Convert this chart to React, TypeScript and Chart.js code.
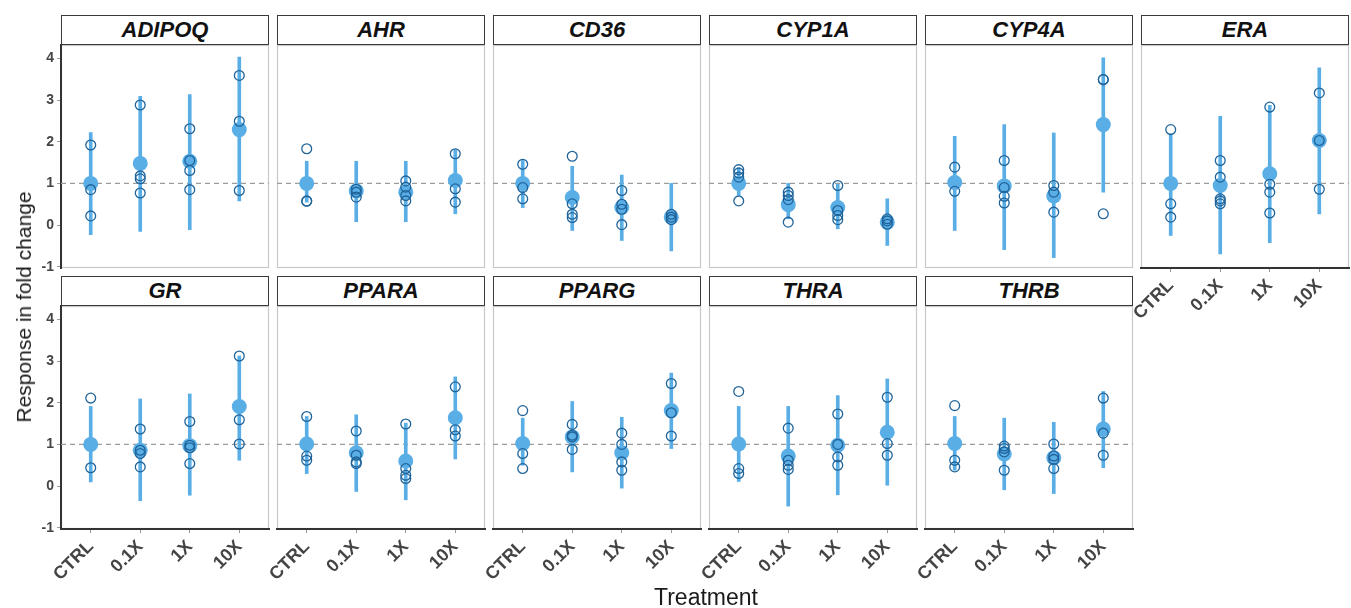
import React, { useEffect, useRef } from "react";
import { Chart, registerables } from "chart.js";
Chart.register(...registerables);

// ---------- data ----------
const treatments = ["CTRL", "0.1X", "1X", "10X"];
const yTickValues = [-1, 0, 1, 2, 3, 4];
const referenceLevel = 1;

const adipoqMean = [1.0, 1.48, 1.53, 2.29];
const adipoqLo = [-0.23, -0.15, -0.11, 0.58];
const adipoqHi = [2.22, 3.09, 3.13, 4.03];
const adipoqPts = [[1.92, 0.85, 0.22], [2.88, 1.18, 1.11, 0.77], [2.31, 1.55, 1.31, 0.85], [3.59, 2.49, 0.83]];

const ahrMean = [1.0, 0.82, 0.79, 1.07];
const ahrLo = [0.55, 0.08, 0.08, 0.27];
const ahrHi = [1.53, 1.53, 1.53, 1.81];
const ahrPts = [[1.83, 0.58, 0.57], [0.86, 0.79, 0.67], [1.06, 0.91, 0.71, 0.58], [1.71, 0.87, 0.55]];

const cd36Mean = [1.0, 0.66, 0.42, 0.19];
const cd36Lo = [0.42, -0.13, -0.37, -0.62];
const cd36Hi = [1.55, 1.41, 1.2, 1.0];
const cd36Pts = [[1.46, 0.9, 0.63], [1.65, 0.51, 0.26, 0.18], [0.83, 0.5, 0.38, 0.01], [0.26, 0.19, 0.13]];

const cyp1aMean = [1.0, 0.49, 0.42, 0.07];
const cyp1aLo = [0.72, 0.15, -0.09, -0.49];
const cyp1aHi = [1.38, 1.0, 0.98, 0.63];
const cyp1aPts = [[1.33, 1.25, 1.15, 0.58], [0.79, 0.71, 0.61, 0.07], [0.95, 0.35, 0.23, 0.13], [0.15, 0.1, 0.02]];

const cyp4aMean = [1.02, 0.94, 0.7, 2.41];
const cyp4aLo = [-0.13, -0.59, -0.78, 0.79];
const cyp4aHi = [2.13, 2.41, 2.21, 4.01];
const cyp4aPts = [[1.39, 0.81], [1.55, 0.9, 0.69, 0.53], [0.95, 0.79, 0.31], [3.49, 3.49, 0.27]];

const eraMean = [1.0, 0.95, 1.23, 2.03];
const eraLo = [-0.25, -0.69, -0.42, 0.27];
const eraHi = [2.19, 2.61, 2.87, 3.77];
const eraPts = [[2.29, 0.51, 0.19], [1.55, 1.15, 0.63, 0.58, 0.51], [2.83, 0.98, 0.79, 0.29], [3.17, 2.03, 0.86]];

const grMean = [1.0, 0.86, 0.97, 1.91];
const grLo = [0.1, -0.35, -0.22, 0.62];
const grHi = [1.91, 2.09, 2.21, 3.12];
const grPts = [[2.11, 0.44], [1.37, 0.86, 0.78, 0.46], [1.55, 0.98, 0.92, 0.54], [3.12, 1.59, 1.01]];

const pparaMean = [1.01, 0.8, 0.6, 1.64];
const pparaLo = [0.3, -0.13, -0.33, 0.65];
const pparaHi = [1.67, 1.71, 1.51, 2.62];
const pparaPts = [[1.67, 0.72, 0.62], [1.32, 0.74, 0.58, 0.54], [1.49, 0.42, 0.26, 0.18], [2.38, 1.35, 1.2]];

const ppargMean = [1.02, 1.18, 0.8, 1.81];
const ppargLo = [0.5, 0.34, -0.05, 0.9];
const ppargHi = [1.63, 2.03, 1.65, 2.71];
const ppargPts = [[1.81, 0.78, 0.42], [1.48, 1.22, 1.18, 0.88], [1.27, 1.0, 0.58, 0.38], [2.46, 1.76, 1.2]];

const thraMean = [1.01, 0.72, 0.98, 1.29];
const thraLo = [0.11, -0.48, -0.21, 0.02];
const thraHi = [1.91, 1.91, 2.17, 2.57];
const thraPts = [[2.27, 0.42, 0.3], [1.39, 0.62, 0.5, 0.4], [1.73, 1.0, 0.7, 0.5], [2.13, 1.02, 0.74]];

const thrbMean = [1.02, 0.77, 0.68, 1.37];
const thrbLo = [0.38, -0.09, -0.18, 0.44];
const thrbHi = [1.67, 1.63, 1.53, 2.27];
const thrbPts = [[1.93, 0.62, 0.46], [0.96, 0.9, 0.82, 0.38], [1.01, 0.72, 0.64, 0.42], [2.11, 1.27, 0.74]];

type PanelDef = { gene: string; mean: number[]; lo: number[]; hi: number[]; pts: number[][]; row: number; col: number; showX: boolean };

const panels: PanelDef[] = [
  { gene: "ADIPOQ", mean: adipoqMean, lo: adipoqLo, hi: adipoqHi, pts: adipoqPts, row: 0, col: 0, showX: false },
  { gene: "AHR", mean: ahrMean, lo: ahrLo, hi: ahrHi, pts: ahrPts, row: 0, col: 1, showX: false },
  { gene: "CD36", mean: cd36Mean, lo: cd36Lo, hi: cd36Hi, pts: cd36Pts, row: 0, col: 2, showX: false },
  { gene: "CYP1A", mean: cyp1aMean, lo: cyp1aLo, hi: cyp1aHi, pts: cyp1aPts, row: 0, col: 3, showX: false },
  { gene: "CYP4A", mean: cyp4aMean, lo: cyp4aLo, hi: cyp4aHi, pts: cyp4aPts, row: 0, col: 4, showX: false },
  { gene: "ERA", mean: eraMean, lo: eraLo, hi: eraHi, pts: eraPts, row: 0, col: 5, showX: true },
  { gene: "GR", mean: grMean, lo: grLo, hi: grHi, pts: grPts, row: 1, col: 0, showX: true },
  { gene: "PPARA", mean: pparaMean, lo: pparaLo, hi: pparaHi, pts: pparaPts, row: 1, col: 1, showX: true },
  { gene: "PPARG", mean: ppargMean, lo: ppargLo, hi: ppargHi, pts: ppargPts, row: 1, col: 2, showX: true },
  { gene: "THRA", mean: thraMean, lo: thraLo, hi: thraHi, pts: thraPts, row: 1, col: 3, showX: true },
  { gene: "THRB", mean: thrbMean, lo: thrbLo, hi: thrbHi, pts: thrbPts, row: 1, col: 4, showX: true },
];

// ---------- layout / style ----------
const COL_LEFT = [61, 277, 493, 709, 925, 1141];
const PLOT_W = 208;
const PLOT_H = 223;
const ROW_TOP = [45, 306];
const STRIP_H = 30;
const Y_AXIS_W = 48;
const X_AXIS_H = 75;
const PAD = 14;
const LIGHT = "#5aaee6";
const DARK = "#1f6399";
const FONT = "'Liberation Sans', Arial, Helvetica, sans-serif";
const TEXT_GRAY = "#444444";

const panelBorder = {
  id: "panelBorder",
  beforeDraw(chart: any) {
    const { ctx, chartArea } = chart;
    ctx.save();
    ctx.strokeStyle = "#c8c8c8";
    ctx.lineWidth = 1.2;
    ctx.strokeRect(chartArea.left + 0.5, chartArea.top + 0.5, chartArea.right - chartArea.left - 1, chartArea.bottom - chartArea.top - 1);
    ctx.restore();
  },
};

function Panel({ p }: { p: PanelDef }) {
  const ref = useRef<HTMLCanvasElement>(null);
  const showY = p.col === 0;
  const padL = showY ? 0 : PAD;
  const padB = p.showX ? 0 : PAD;
  const padT = PAD;
  const padR = PAD;
  const axisW = showY ? Y_AXIS_W : 0;
  const axisH = p.showX ? X_AXIS_H : 0;
  const width = padL + axisW + PLOT_W + padR;
  const height = padT + PLOT_H + axisH + padB;
  const left = COL_LEFT[p.col] - axisW - padL;
  const top = ROW_TOP[p.row] - padT;

  useEffect(() => {
    const canvas = ref.current;
    if (!canvas) return;
    const open = p.pts.flatMap((arr, i) => arr.map((v) => ({ x: i + 1, y: v })));
    const means = p.mean.map((v, i) => ({ x: i + 1, y: v }));
    const bars = p.lo.map((v, i) => ({ x: i + 1, y: [v, p.hi[i]] }));
    const chart = new Chart(canvas, {
      type: "scatter",
      data: {
        datasets: [
          {
            type: "scatter",
            data: open,
            pointRadius: 4.9,
            pointBorderWidth: 1.3,
            pointBorderColor: DARK,
            pointBackgroundColor: "rgba(0,0,0,0)",
            order: 0,
          } as any,
          {
            type: "scatter",
            data: means,
            pointRadius: 7.5,
            pointBorderWidth: 0,
            pointBackgroundColor: LIGHT,
            pointBorderColor: LIGHT,
            order: 1,
          } as any,
          {
            type: "bar",
            data: bars,
            backgroundColor: LIGHT,
            borderWidth: 0,
            barThickness: 3,
            order: 2,
          } as any,
          {
            type: "line",
            data: [
              { x: 0.4, y: referenceLevel },
              { x: 4.6, y: referenceLevel },
            ],
            borderColor: "#9c9c9c",
            borderWidth: 1.2,
            borderDash: [5, 4],
            pointRadius: 0,
            order: 3,
          } as any,
        ],
      },
      options: {
        animation: false,
        responsive: false,
        maintainAspectRatio: false,
        events: [],
        layout: { padding: { left: padL, right: padR, top: padT, bottom: padB } },
        plugins: { legend: { display: false }, tooltip: { enabled: false } },
        scales: {
          x: {
            type: "linear",
            min: 0.4,
            max: 4.6,
            offset: false,
            display: p.showX,
            afterBuildTicks: (s: any) => {
              s.ticks = treatments.map((_, i) => ({ value: i + 1 }));
            },
            afterFit: (s: any) => {
              if (p.showX) s.height = X_AXIS_H;
              s.paddingLeft = 0;
              s.paddingRight = 0;
            },
            grid: { display: true, offset: false, drawOnChartArea: false, drawTicks: true, tickLength: 4, color: "#999999" },
            border: { display: true, color: "#333333", width: 2 },
            ticks: {
              autoSkip: false,
              maxRotation: 45,
              minRotation: 45,
              padding: 3,
              color: TEXT_GRAY,
              font: { family: FONT, size: 18, weight: "bold" },
              callback: (v: any) => treatments[Math.round(Number(v)) - 1] ?? "",
            },
          },
          y: {
            type: "linear",
            min: -1.03,
            max: 4.32,
            display: showY,
            afterBuildTicks: (s: any) => {
              s.ticks = yTickValues.map((v) => ({ value: v }));
            },
            afterFit: (s: any) => {
              if (showY) s.width = Y_AXIS_W;
              s.paddingTop = 0;
              s.paddingBottom = 0;
            },
            grid: { display: true, offset: false, drawOnChartArea: false, drawTicks: true, tickLength: 4, color: "#999999" },
            border: { display: true, color: "#333333", width: 2 },
            ticks: {
              padding: 3,
              color: TEXT_GRAY,
              font: { family: FONT, size: 14, weight: "bold" },
              callback: (v: any) => String(v),
            },
          },
        },
      },
      plugins: [panelBorder],
    } as any);
    return () => chart.destroy();
  }, []);

  return (
    <>
      <canvas
        ref={ref}
        width={width}
        height={height}
        style={{ position: "absolute", left, top, width, height }}
      />
      <div
        style={{
          position: "absolute",
          left: COL_LEFT[p.col],
          top: ROW_TOP[p.row] - STRIP_H,
          width: PLOT_W,
          height: STRIP_H,
          boxSizing: "border-box",
          border: "1.5px solid #3a3a3a",
          background: "#ffffff",
          display: "flex",
          alignItems: "center",
          justifyContent: "center",
          fontFamily: FONT,
          fontWeight: "bold",
          fontStyle: "italic",
          fontSize: 22,
          color: "#111111",
        }}
      >
        {p.gene}
      </div>
    </>
  );
}

export default function App() {
  return (
    <div
      style={{
        position: "absolute",
        left: 0,
        top: 0,
        width: 1351,
        height: 608,
        background: "#ffffff",
        overflow: "hidden",
        fontFamily: FONT,
      }}
    >
      {panels.map((p) => (
        <Panel key={p.gene} p={p} />
      ))}
      <div
        style={{
          position: "absolute",
          left: 24,
          top: 307,
          transform: "translate(-50%, -50%) rotate(-90deg)",
          whiteSpace: "nowrap",
          fontSize: 21,
          color: "#1a1a1a",
          fontFamily: FONT,
        }}
      >
        Response in fold change
      </div>
      <div
        style={{
          position: "absolute",
          left: 706,
          top: 597,
          transform: "translate(-50%, -50%)",
          whiteSpace: "nowrap",
          fontSize: 23,
          color: "#1a1a1a",
          fontFamily: FONT,
        }}
      >
        Treatment
      </div>
    </div>
  );
}
